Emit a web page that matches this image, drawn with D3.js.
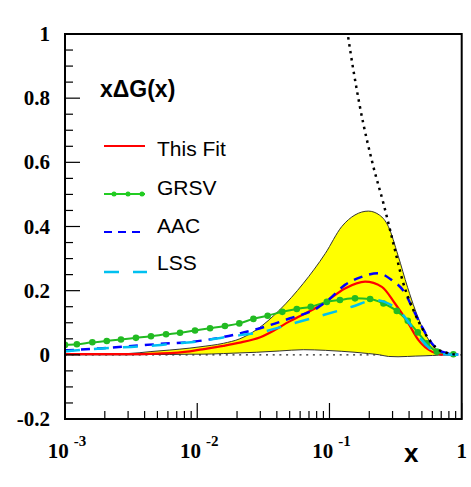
<!DOCTYPE html>
<html lang="en">
<head>
<meta charset="UTF-8">
<title>xDeltaG(x)</title>
<script src="https://d3js.org/d3.v7.min.js"></script>
<style>
  body { margin: 0; background: #fff; }
  svg { display: block; }
  .tick-label { font-family: "Liberation Serif", serif; font-weight: bold; fill: #000; }
  .legend-text { font-family: "Liberation Sans", Arial, sans-serif; font-size: 21px; fill: #000; }
</style>
</head>
<body>
<script>
// --- data ---
const bandX     = [0.001, 0.003, 0.0044, 0.0062, 0.0088, 0.0105, 0.0158, 0.021, 0.028, 0.042, 0.0635, 0.093, 0.124, 0.156, 0.197, 0.24, 0.279, 0.33, 0.39, 0.445, 0.528, 0.60, 0.667, 0.75];
const bandUpper = [0.002, 0.004, 0.010, 0.015, 0.021, 0.025, 0.036, 0.050, 0.078, 0.14, 0.223, 0.316, 0.40, 0.436, 0.448, 0.435, 0.40, 0.31, 0.21, 0.14, 0.067, 0.03, 0.01, 0.0];
const bandLower = [0.0, 0.0, 0.001, 0.001, 0.002, 0.002, 0.004, 0.006, 0.008, 0.012, 0.016, 0.014, 0.011, 0.008, 0.004, 0.0, -0.005, -0.006, -0.005, -0.004, -0.003, -0.002, -0.001, 0.0];

const fitX = [0.001, 0.003, 0.005, 0.0088, 0.0105, 0.0158, 0.021, 0.03, 0.0504, 0.09, 0.131, 0.186, 0.249, 0.313, 0.395, 0.471, 0.594, 0.7, 0.9];
const fitY = [0.002, 0.002, 0.004, 0.011, 0.016, 0.028, 0.038, 0.055, 0.105, 0.16, 0.207, 0.228, 0.212, 0.16, 0.098, 0.046, 0.01, 0.001, 0.0];

const grsvX = [0.001, 0.00123, 0.00161, 0.00207, 0.00265, 0.00344, 0.00447, 0.00581, 0.00741, 0.00962, 0.0125, 0.0162, 0.0208, 0.0266, 0.0341, 0.044, 0.0566, 0.0722, 0.0955, 0.12, 0.156, 0.203, 0.256, 0.323, 0.391, 0.465, 0.545, 0.649, 0.865];
const grsvY = [0.031, 0.033, 0.039, 0.043, 0.048, 0.053, 0.058, 0.064, 0.069, 0.076, 0.083, 0.090, 0.098, 0.112, 0.122, 0.134, 0.143, 0.150, 0.165, 0.171, 0.176, 0.174, 0.160, 0.137, 0.106, 0.070, 0.036, 0.010, 0.002];

const aacX = [0.001, 0.00184, 0.00523, 0.00934, 0.01875, 0.0299, 0.0504, 0.0801, 0.0981, 0.131, 0.175, 0.234, 0.296, 0.373, 0.431, 0.499, 0.594, 0.707, 0.944];
const aacY = [0.014, 0.020, 0.034, 0.041, 0.062, 0.083, 0.114, 0.145, 0.171, 0.218, 0.243, 0.254, 0.233, 0.192, 0.14, 0.088, 0.036, 0.01, 0.0];

const lssX = [0.001, 0.00146, 0.00261, 0.0044, 0.007, 0.0099, 0.0167, 0.0316, 0.0533, 0.090, 0.148, 0.221, 0.279, 0.352, 0.419, 0.499, 0.594, 0.707, 0.944];
const lssY = [0.011, 0.017, 0.023, 0.028, 0.036, 0.041, 0.056, 0.072, 0.098, 0.124, 0.15, 0.171, 0.16, 0.129, 0.088, 0.046, 0.015, 0.002, 0.0];

const boundX = [0.125, 0.1374, 0.170, 0.215, 0.256, 0.304, 0.362, 0.431, 0.528, 0.649, 0.79, 0.95];
const boundY = [1.12, 1.0, 0.773, 0.586, 0.472, 0.348, 0.223, 0.14, 0.067, 0.02, 0.005, 0.0];

const yTickValues = [1, 0.8, 0.6, 0.4, 0.2, 0, -0.2];
const yTickLabels = ["1", "0.8", "0.6", "0.4", "0.2", "0", "-0.2"];
const xDecades = [1e-3, 1e-2, 1e-1];
const xDecadeExps = ["-3", "-2", "-1"];

const legendNames = ["This Fit", "GRSV", "AAC", "LSS"];

// --- layout ---
const W = 471, H = 487;
const plotLeft = 65, plotRight = 461.7, plotTop = 34, plotBottom = 419;

const svg = d3.select("body").append("svg").attr("width", W).attr("height", H);

const x = d3.scaleLog().domain([1e-3, 1]).range([plotLeft, plotRight]);
const y = d3.scaleLinear().domain([-0.2, 1]).range([plotBottom, plotTop]);

svg.append("clipPath").attr("id", "plot")
  .append("rect").attr("x", plotLeft).attr("y", plotTop)
  .attr("width", plotRight - plotLeft).attr("height", plotBottom - plotTop);

const plot = svg.append("g").attr("clip-path", "url(#plot)");

const zip = (xs, ys) => xs.map((v, i) => [v, ys[i]]);
const line = d3.line().x(d => x(d[0])).y(d => y(d[1])).curve(d3.curveMonotoneX);

// zero reference (dotted)
plot.append("line")
  .attr("x1", x(1e-3)).attr("x2", x(1))
  .attr("y1", y(0)).attr("y2", y(0))
  .attr("stroke", "#222").attr("stroke-width", 1.3).attr("stroke-dasharray", "2,4.7");

// error band
const bandData = bandX.map((v, i) => ({ x: v, lo: bandLower[i], hi: bandUpper[i] }));
plot.append("path")
  .attr("d", d3.area().x(d => x(d.x)).y0(d => y(d.lo)).y1(d => y(d.hi)).curve(d3.curveMonotoneX)(bandData))
  .attr("fill", "#ffff00");
plot.append("path")
  .attr("d", line(zip(bandX, bandUpper)))
  .attr("fill", "none").attr("stroke", "#333").attr("stroke-width", 1);
plot.append("path")
  .attr("d", line(zip(bandX, bandLower)))
  .attr("fill", "none").attr("stroke", "#333").attr("stroke-width", 1);

// curves
plot.append("path").attr("d", line(zip(fitX, fitY)))
  .attr("fill", "none").attr("stroke", "#ff0000").attr("stroke-width", 2.2);

plot.append("path").attr("d", line(zip(grsvX, grsvY)))
  .attr("fill", "none").attr("stroke", "#22bb22").attr("stroke-width", 2);
plot.selectAll(".grsv-dot").data(zip(grsvX, grsvY)).enter().append("circle")
  .attr("class", "grsv-dot")
  .attr("cx", d => x(d[0])).attr("cy", d => y(d[1])).attr("r", 3.3)
  .attr("fill", "#22bb22");

plot.append("path").attr("d", line(zip(aacX, aacY)))
  .attr("fill", "none").attr("stroke", "#0000ff").attr("stroke-width", 2.5)
  .attr("stroke-dasharray", "9,7");

plot.append("path").attr("d", line(zip(lssX, lssY)))
  .attr("fill", "none").attr("stroke", "#00c0f0").attr("stroke-width", 2.5)
  .attr("stroke-dasharray", "15,14");

plot.append("path").attr("d", line(zip(boundX, boundY)))
  .attr("fill", "none").attr("stroke", "#000").attr("stroke-width", 2.5)
  .attr("stroke-dasharray", "2.5,4.5");

// frame
svg.append("rect")
  .attr("x", plotLeft).attr("y", plotTop)
  .attr("width", plotRight - plotLeft).attr("height", plotBottom - plotTop)
  .attr("fill", "none").attr("stroke", "#000").attr("stroke-width", 2);

// y ticks
const yMinor = d3.range(-0.2, 1.0001, 0.05).map(v => +v.toFixed(2));
svg.append("g").selectAll("line").data(yMinor).enter().append("line")
  .attr("x1", plotLeft).attr("y1", d => y(d)).attr("y2", d => y(d))
  .attr("x2", d => plotLeft + (Math.abs(Math.round(d * 100) % 20) === 0 ? 15 : 8))
  .attr("stroke", "#000").attr("stroke-width", 1.2);

svg.append("g").selectAll("text").data(yTickValues).enter().append("text")
  .attr("class", "tick-label")
  .attr("x", 50).attr("y", d => y(d) + 7)
  .attr("text-anchor", "end").attr("font-size", 21)
  .text((d, i) => yTickLabels[i]);

// x ticks
const xTicks = x.ticks();
svg.append("g").selectAll("line").data(xTicks).enter().append("line")
  .attr("x1", d => x(d)).attr("x2", d => x(d)).attr("y1", plotBottom)
  .attr("y2", d => plotBottom - (Math.abs(Math.log10(d) - Math.round(Math.log10(d))) < 1e-6 ? 16 : 8))
  .attr("stroke", "#000").attr("stroke-width", 1.2);

const xl = svg.append("g").selectAll("text").data(xDecades).enter().append("text")
  .attr("class", "tick-label")
  .attr("x", d => x(d) + 2).attr("y", 458)
  .attr("text-anchor", "middle").attr("font-size", 21);
xl.append("tspan").text("10");
xl.append("tspan").attr("dx", 5).attr("dy", -12).attr("font-size", 15).text((d, i) => xDecadeExps[i]);

svg.append("text").attr("class", "tick-label")
  .attr("x", x(1)).attr("y", 458).attr("text-anchor", "middle").attr("font-size", 21).text("1");

svg.append("text")
  .attr("x", 404).attr("y", 462)
  .attr("font-family", "Liberation Sans, Arial, sans-serif").attr("font-weight", "bold")
  .attr("font-size", 26).text("x");

// title inside plot
svg.append("text")
  .attr("x", 100).attr("y", 97)
  .attr("font-family", "Liberation Sans, Arial, sans-serif").attr("font-weight", "bold")
  .attr("font-size", 23).text("x\u0394G(x)");

// legend
const legendTextY = [156, 195, 233, 270];
const legend = svg.append("g");
legend.selectAll("text").data(legendNames).enter().append("text")
  .attr("class", "legend-text").attr("x", 157).attr("y", (d, i) => legendTextY[i]).text(d => d);

legend.append("line").attr("x1", 104).attr("x2", 145).attr("y1", 146).attr("y2", 146)
  .attr("stroke", "#ff0000").attr("stroke-width", 2);
legend.append("line").attr("x1", 104).attr("x2", 145).attr("y1", 194).attr("y2", 194)
  .attr("stroke", "#22cc22").attr("stroke-width", 2);
legend.selectAll(".ldot").data([114, 128, 142]).enter().append("circle")
  .attr("class", "ldot").attr("cx", d => d).attr("cy", 194).attr("r", 2.5).attr("fill", "#22cc22");
legend.append("line").attr("x1", 104).attr("x2", 145).attr("y1", 232).attr("y2", 232)
  .attr("stroke", "#0000ff").attr("stroke-width", 2).attr("stroke-dasharray", "8,6");
legend.append("line").attr("x1", 104).attr("x2", 147).attr("y1", 272).attr("y2", 272)
  .attr("stroke", "#00c0f0").attr("stroke-width", 2.5).attr("stroke-dasharray", "15,14");
</script>
</body>
</html>
